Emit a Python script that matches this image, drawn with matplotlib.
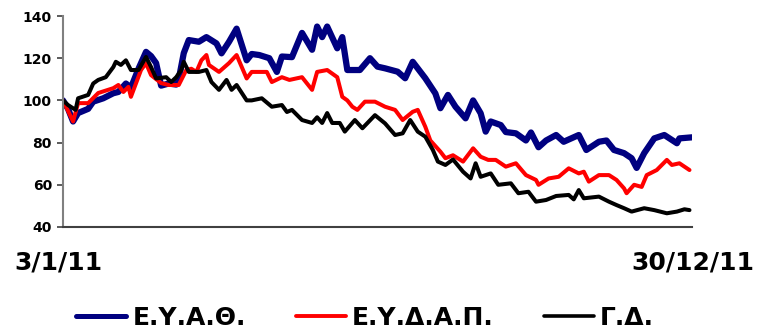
import matplotlib.pyplot as plt

plt.rcParams["font.family"] = "DejaVu Sans"
plt.rcParams["font.weight"] = "bold"

# index levels (3/1/11 = 100), x = trading session of 2011
eyath_day = [0, 2, 4, 6, 10, 12, 16, 20, 22, 25, 27, 30, 33, 35, 37, 39, 42, 45, 46, 48,
             50, 54, 57, 61, 63, 66, 69, 73, 75, 78, 82, 85, 87, 91, 95, 99, 101, 103, 105,
             109, 111, 113, 118, 122, 125, 128, 133, 136, 139, 144, 148, 150, 153, 156, 160,
             163, 166, 168, 170, 174, 176, 180, 184, 186, 189, 192, 196, 199, 205, 208, 213,
             216, 219, 223, 226, 228, 231, 235, 239, 244, 245, 250]
eyath_val = [100, 96, 90, 94, 96, 99.4, 101, 103.4, 104, 108, 106, 115, 123, 121, 117.7, 107,
             108, 107.5, 110, 122.4, 128.6, 127.8, 130, 127, 122.3, 127.8, 134, 119, 122, 121.5,
             120, 113.5, 120.8, 120.5, 132, 124, 135, 130, 135, 124.7, 130, 114.4, 114.4, 120,
             116, 115.2, 113.6, 110.5, 118.3, 110.5, 103.3, 96.3, 102.6, 97, 91.5, 100, 93.9,
             85.2, 90, 88.3, 85, 84.4, 81, 84.8, 77.8, 81, 83.6, 80.4, 83.6, 76.5, 80.4, 81,
             76.5, 75, 72.6, 68, 75, 82, 83.6, 79.7, 82, 82.5]

eydap_day = [0, 2, 4, 6, 10, 14, 20, 22, 24, 26, 27, 31, 33, 35, 39, 42, 46, 49, 51, 53, 55,
             57, 58, 62, 66, 69, 73, 75, 77, 81, 83, 87, 90, 95, 99, 101, 105, 109, 111, 113,
             115, 117, 120, 124, 128, 132, 135, 139, 141, 144, 146, 150, 152, 155, 159, 163,
             166, 169, 172, 176, 180, 184, 188, 189, 193, 197, 201, 205, 207, 209, 213, 217,
             220, 223, 224, 227, 230, 232, 236, 240, 242, 245, 249]
eydap_val = [100, 95, 90, 98.7, 98.7, 103.5, 105.8, 107.3, 104, 106.4, 101.7, 114.4, 117.6,
             112, 108.2, 107.3, 107.3, 114.4, 115, 113.5, 119, 121.5, 116.8, 113.5, 117.7,
             121.5, 110.4, 113.5, 113.5, 113.5, 108.7, 111, 109.7, 111, 105, 113.5, 114.4, 111,
             101.7, 100, 97, 95.5, 99.4, 99.4, 97, 95.5, 90.7, 94.6, 95.5, 87.5, 81, 75.7, 72.6,
             74, 71, 77.3, 73.3, 71.8, 71.8, 68.6, 70.2, 64.6, 62.3, 60, 63, 63.8, 67.8, 65.4,
             66.2, 61.5, 64.6, 64.6, 62.3, 58.3, 56, 60, 59, 64.6, 67, 71.8, 69.4, 70.2, 67]

gd_day = [0, 2, 5, 6, 10, 12, 14, 17, 20, 21, 23, 25, 27, 30, 33, 35, 37, 41, 43, 45, 47, 48,
          50, 54, 57, 59, 62, 65, 67, 69, 73, 75, 79, 83, 87, 89, 91, 95, 99, 101, 103, 105,
          107, 110, 112, 116, 119, 124, 128, 132, 135, 138, 141, 144, 147, 149, 152, 155, 159,
          162, 164, 166, 170, 173, 178, 181, 185, 188, 192, 196, 201, 203, 205, 207, 213, 217,
          220, 223, 226, 231, 235, 240, 244, 247, 249]
gd_val = [100, 97.8, 95.5, 101, 102.6, 108, 109.7, 111, 115.8, 118.3, 116.8, 119, 114.4, 114.4,
          120.6, 115.8, 110.4, 111, 108.7, 111, 114.4, 118.3, 113.5, 113.5, 114.4, 108.7, 105,
          109.7, 105, 107.3, 100, 100, 101, 97, 97.8, 94.5, 95.5, 90.7, 89.3, 92, 89.3, 94,
          89.3, 89.3, 85.2, 90.7, 86.8, 93, 89.1, 83.6, 84.4, 90.7, 85.2, 82.8, 76.5, 71, 69.4,
          72, 66.2, 63, 70.2, 63.8, 65.4, 60, 60.7, 56, 56.7, 52, 52.8, 54.7, 55.2, 53.1, 57.5,
          53.6, 54.4, 52, 50.4, 48.9, 47.3, 48.9, 48, 46.5, 47.3, 48.4, 48]

series_names = ["Ε.Υ.Α.Θ.", "Ε.Υ.Δ.Α.Π.", "Γ.Δ."]
start_label = "3/1/11"
end_label = "30/12/11"

fig = plt.figure(figsize=(7.62, 3.30), dpi=100)
ax = fig.add_axes([63/762, 1 - 227/330, (692 - 63)/762, (227 - 16)/330])

ax.plot(eyath_day, eyath_val, color="#000080", lw=4.5, solid_joinstyle="round",
        solid_capstyle="round", label=series_names[0])
ax.plot(eydap_day, eydap_val, color="#ff0000", lw=2.9, solid_joinstyle="round",
        solid_capstyle="round", label=series_names[1])
ax.plot(gd_day, gd_val, color="black", lw=2.9, solid_joinstyle="round",
        solid_capstyle="round", label=series_names[2])

ax.set_xlim(0, 250)
ax.set_ylim(40, 140)
ax.set_yticks(range(40, 141, 20))
ax.set_xticks([])
ax.tick_params(axis="y", length=4, width=1.2, color="#404040", pad=4, labelsize=10)
for lab in ax.get_yticklabels():
    lab.set_fontweight("bold")

for side in ["top", "right"]:
    ax.spines[side].set_visible(False)
ax.spines["left"].set_color("#808080")
ax.spines["left"].set_linewidth(1.5)
ax.spines["bottom"].set_color("#404040")
ax.spines["bottom"].set_linewidth(1.5)

fig.text(14/762, 1 - 262/330, start_label, fontsize=18, fontweight="bold",
         ha="left", va="center")
fig.text(754/762, 1 - 262/330, end_label, fontsize=18, fontweight="bold",
         ha="right", va="center")

leg = fig.legend(loc="center", bbox_to_anchor=(365/762, 1 - 318/330), ncol=3, frameon=False,
                 handlelength=2.0, handletextpad=0.24, columnspacing=2.0,
                 prop={"size": 18, "weight": "bold"})
for line, w in zip(leg.get_lines(), [3.6, 2.8, 2.6]):
    line.set_linewidth(w)
    line.set_solid_capstyle("round")

plt.savefig("out.png", dpi=100)
